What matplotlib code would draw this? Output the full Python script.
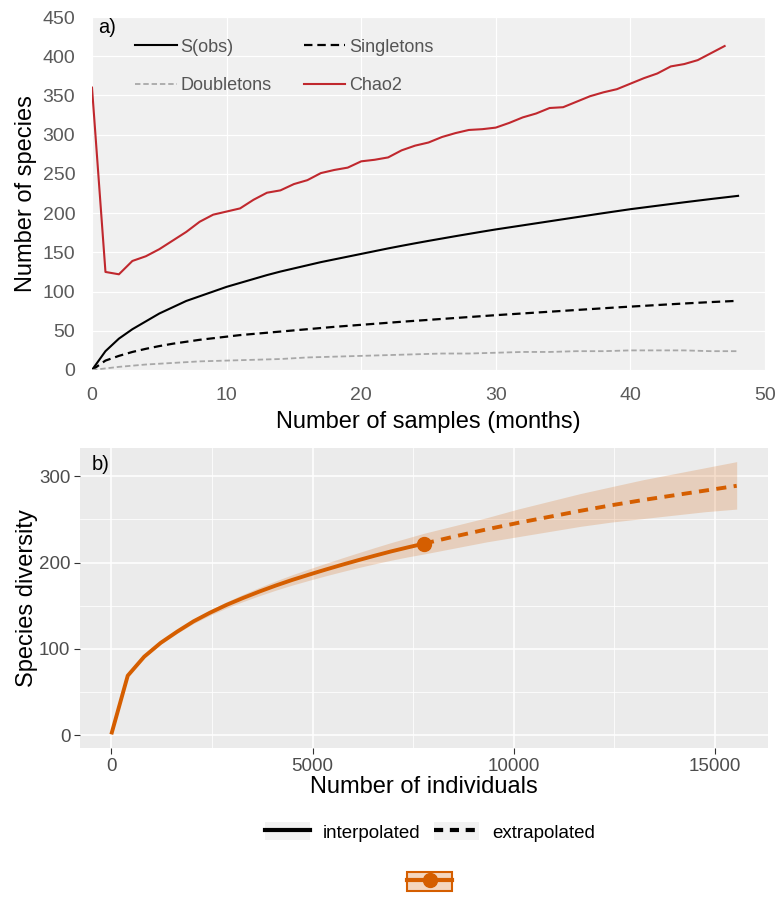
import numpy as np
import matplotlib
matplotlib.use("Agg")
import matplotlib.pyplot as plt
from matplotlib.lines import Line2D
from matplotlib.patches import Patch, Rectangle
from matplotlib.legend_handler import HandlerLine2D, HandlerTuple

plt.rcParams['font.family'] = ['Liberation Sans', 'DejaVu Sans']

# ---- panel a: accumulation curves (months)
months = list(range(0, 49))
sobs = [0, 24, 40, 52, 62, 72, 80, 88, 94, 100, 106, 111, 116, 121, 125.5, 129.5, 133.5, 137.5,
        141, 144.5, 148, 151.5, 155, 158.3, 161.5, 164.6, 167.6, 170.6, 173.5, 176.4, 179.2, 181.8,
        184.4, 187, 189.6, 192.2, 194.8, 197.4, 200, 202.5, 205, 207.2, 209.4, 211.6, 213.8,
        215.9, 218, 220, 222]
singl = [0, 12, 18, 23, 27, 30.5, 33.5, 36, 38.5, 40.5, 42.5, 44.5, 46, 47.5, 49, 50.5, 52, 53.5,
         55, 56.3, 57.6, 58.9, 60.2, 61.5, 62.7, 63.9, 65.1, 66.3, 67.5, 68.7, 69.9, 71, 72.1, 73.2,
         74.3, 75.4, 76.5, 77.6, 78.7, 79.8, 80.8, 81.8, 82.8, 83.8, 84.8, 85.7, 86.6, 87.4, 88.2]
doubl = [0, 2, 4, 5.5, 7, 8, 9, 10, 11, 11.5, 12, 12.5, 13, 13.5, 14, 15, 16, 16.5, 17, 17.5,
         18, 18.5, 19, 19.5, 20, 20.5, 21, 21, 21, 21.5, 22, 22.5, 23, 23, 23, 23.5, 24, 24,
         24, 24.5, 25, 25, 25, 25, 25, 24.5, 24, 24, 24]
chao2 = [360, 125, 122, 139, 145, 154, 165, 176, 189, 198, 202, 206, 217, 226, 229, 237, 242, 251,
         255, 258, 266, 268, 271, 280, 286, 290, 297, 302, 306, 307, 309, 315, 322, 327, 334, 335,
         342, 349, 354, 358, 365, 372, 378, 387, 390, 395, 404, 413]

# ---- panel b: rarefaction / extrapolation (individuals)
n_int = [1, 409, 818, 1227, 1636, 2045, 2454, 2863, 3272, 3681, 4090, 4499, 4908, 5317, 5726,
         6135, 6544, 6953, 7362, 7769]
s_int = [1, 69, 91, 107, 120, 132, 142, 151, 159, 166.5, 173.5, 180, 186, 191.8, 197.4, 202.8,
         208, 213, 217.6, 222]
lo_int = [1, 68.5, 90, 105.5, 118, 129.5, 139, 147.4, 154.8, 161.7, 168.1, 174, 179.4, 184.6,
          189.5, 194.2, 198.6, 202.8, 206.6, 210]
hi_int = [1, 69.5, 92, 108.5, 122, 134.5, 145, 154.6, 163.2, 171.3, 178.9, 186, 192.6, 199,
          205.3, 211.4, 217.4, 223.2, 228.6, 234]
n_ext = [7769, 8546, 9323, 10100, 10877, 11653, 12430, 13207, 13984, 14761, 15538]
s_ext = [222, 230.5, 238.5, 246, 253, 260, 266.5, 272.5, 278, 283.5, 289]
lo_ext = [210, 217, 224, 230, 236, 242, 247, 251, 255, 259, 262]
hi_ext = [234, 243, 252, 262, 271, 280, 288, 296, 303, 310, 317]

orange = '#D55E00'
red = '#c0282e'

fig = plt.figure(figsize=(7.81, 8.99), dpi=100)

# ================= panel a
ax1 = fig.add_axes([92/781, 1-370/899, 673/781, 353/899])
ax1.set_facecolor('#f0f0f0')
for s in ax1.spines.values():
    s.set_visible(False)
ax1.grid(True, color='white', lw=0.9)
ax1.set_axisbelow(True)
l_sobs, = ax1.plot(months, sobs, color='black', lw=1.5, label='S(obs)')
l_sing, = ax1.plot(months, singl, color='black', lw=1.6, ls=(0, (3.8, 2.2)), label='Singletons')
l_doub, = ax1.plot(months, doubl, color='#a8a8a8', lw=1.3, ls=(0, (3, 1.6)), label='Doubletons')
l_chao, = ax1.plot(months[:len(chao2)], chao2, color=red, lw=1.5, label='Chao2')
ax1.set_xlim(0, 50)
ax1.set_ylim(0, 450)
ax1.set_xticks(range(0, 51, 10))
ax1.set_yticks(range(0, 451, 50))
ax1.tick_params(length=0, pad=12, labelsize=14, labelcolor='#5a5a5a')
ax1.set_xlabel('Number of samples (months)', fontsize=17, color='black')
ax1.set_ylabel('Number of species', fontsize=17, color='black')
ax1.xaxis.set_label_coords(0.5, -0.115)
ax1.yaxis.set_label_coords(-0.081, 0.5)
ax1.text(0.009, 0.997, 'a)', transform=ax1.transAxes, ha='left', va='top', fontsize=14.5, color='black')
# column-wise fill: row 1 = S(obs), Singletons; row 2 = Doubletons, Chao2
ax1.legend([l_sobs, l_doub, l_sing, l_chao], ['S(obs)', 'Doubletons', 'Singletons', 'Chao2'],
           ncol=2, loc='upper left', bbox_to_anchor=(0.064, 0.939), frameon=False,
           fontsize=13, labelcolor='#555555', handlelength=2.3, handletextpad=0.2,
           columnspacing=1.8, labelspacing=1.2, borderpad=0, borderaxespad=0)

# ================= panel b
ax2 = fig.add_axes([80/781, 1-748/899, 688/781, 300/899])
ax2.set_facecolor('#ebebeb')
for s in ax2.spines.values():
    s.set_visible(False)
ax2.set_xticks([0, 5000, 10000, 15000])
ax2.set_xticks([2500, 7500, 12500], minor=True)
ax2.set_yticks([0, 100, 200, 300])
ax2.set_yticks([50, 150, 250], minor=True)
ax2.grid(True, which='major', color='white', lw=1.1)
ax2.grid(True, which='minor', color='white', lw=0.55)
ax2.set_axisbelow(True)
ax2.tick_params(which='major', length=4, width=0.8, color='#333333', pad=3,
                labelsize=13.5, labelcolor='#4d4d4d')
ax2.tick_params(which='minor', length=0)
ax2.fill_between(n_int, lo_int, hi_int, color=orange, alpha=0.2, lw=0)
ax2.fill_between(n_ext, lo_ext, hi_ext, color=orange, alpha=0.2, lw=0)
ax2.plot(n_int, s_int, color=orange, lw=2.8, solid_capstyle='butt')
ax2.plot(n_ext, s_ext, color=orange, lw=2.8, ls=(0, (2.6, 1.9)))
ax2.plot([n_int[-1]], [s_int[-1]], 'o', color=orange, ms=10)
ax2.set_xlim(-777, 16316)
ax2.set_ylim(-14.8, 332.8)
ax2.set_xlabel('Number of individuals', fontsize=17, color='black')
ax2.set_ylabel('Species diversity', fontsize=17, color='black')
ax2.xaxis.set_label_coords(0.5, -0.092)
ax2.yaxis.set_label_coords(-0.061, 0.5)
ax2.text(0.017, 0.975, 'b)', transform=ax2.transAxes, ha='left', va='top', fontsize=14.5, color='black')


class BoxedLine(HandlerLine2D):
    def create_artists(self, legend, orig_handle, xdescent, ydescent, width, height, fontsize, trans):
        bg = Rectangle((-xdescent, -ydescent), width, height, facecolor='#f2f2f2',
                       edgecolor='none', transform=trans)
        arts = super().create_artists(legend, orig_handle, xdescent, ydescent, width, height,
                                      fontsize, trans)
        return [bg] + arts


h_int = Line2D([], [], color='black', lw=3)
h_ext = Line2D([], [], color='black', lw=3, ls=(0, (2.2, 1.6)))
leg1 = fig.legend([h_int, h_ext], ['interpolated', 'extrapolated'], ncol=2, loc='center',
                  bbox_to_anchor=(430/781, 1-832/899), frameon=False, fontsize=13.5,
                  handlelength=2.4, handleheight=1.1, handletextpad=0.7, columnspacing=0.7,
                  handler_map={Line2D: BoxedLine()})

h_box = Patch(facecolor=(0.835, 0.369, 0.0, 0.25), edgecolor=orange, lw=1.5)
h_line = Line2D([], [], color=orange, lw=3, marker='o', ms=10)
leg2 = fig.legend([(h_box, h_line)], [''], loc='center', bbox_to_anchor=(430/781, 1-882/899),
                  frameon=False, fontsize=13.5, handlelength=2.4, handleheight=1.15,
                  handletextpad=0, handler_map={tuple: HandlerTuple(ndivide=1)})

fig.savefig('out.png', dpi=100)
